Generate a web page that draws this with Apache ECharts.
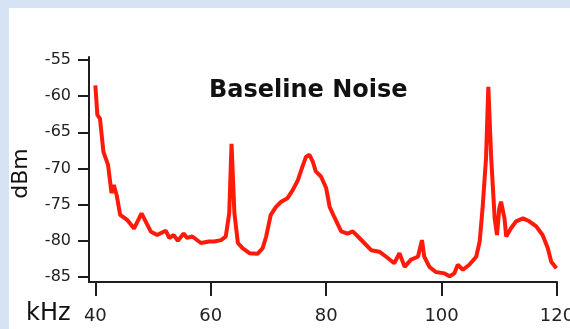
<!DOCTYPE html>
<html>
<head>
<meta charset="utf-8">
<script src="https://cdn.jsdelivr.net/npm/echarts@6/dist/echarts.min.js"></script>
<style>
  html, body { margin:0; padding:0; background:#d5e3f5; width:570px; height:329px; overflow:hidden; }
  #c { position:absolute; left:9px; top:8px; width:561px; height:321px; background:#ffffff; }
</style>
</head>
<body>
<div id="c"></div>
<script>
// Frequency (kHz)
const freqKHz = [40.0, 40.35, 40.8, 41.4, 42.2, 42.8, 43.2, 43.7, 44.3, 45.5, 46.7, 48.0, 49.6, 50.7, 52.2, 52.8, 53.6, 54.3, 55.3, 55.9, 56.8, 58.3, 59.7,
  60.6, 61.8, 62.6, 63.2, 63.6, 64.1, 64.7, 65.5, 66.7, 68.1, 69.0, 69.6, 70.4, 71.3, 72.2, 73.3, 74.2, 75.1, 75.9, 76.5, 77.1, 77.7, 78.2, 79.1, 80.0,
  80.6, 81.4, 82.6, 83.7, 84.6, 85.5, 86.6, 87.8, 89.2, 90.4, 91.8, 92.7, 93.6, 94.7, 95.9, 96.6, 97.0, 97.9, 99.0, 100.5, 101.4,
  102.2, 102.8, 103.7, 104.8, 106.0, 106.6, 107.1, 107.7, 108.1, 108.6, 109.2, 109.6, 110.0, 110.3, 110.9, 111.2, 112.0, 112.9, 114.1, 115.2, 116.4, 117.5, 118.4, 119.0, 119.9];
// Power (dBm)
const powerDBm = [-58.5, -62.6, -63.1, -67.7, -69.5, -73.4, -72.3, -73.7, -76.4, -77.1, -78.3, -76.2, -78.7, -79.2, -78.6, -79.6, -79.2, -80.0, -79.0, -79.6, -79.4, -80.3, -80.1,
  -80.1, -79.9, -79.4, -76.2, -66.6, -76.2, -80.3, -81.0, -81.7, -81.8, -81.0, -79.4, -76.4, -75.3, -74.6, -74.1, -73.0, -71.6, -69.7, -68.4, -68.1, -69.1, -70.4, -71.1, -72.7,
  -75.3, -76.7, -78.7, -79.0, -78.7, -79.4, -80.3, -81.3, -81.5, -82.2, -83.1, -81.7, -83.6, -82.6, -82.2, -79.9, -82.2, -83.6, -84.3, -84.5, -84.9,
  -84.5, -83.3, -84.0, -83.3, -82.2, -80.1, -75.5, -68.6, -58.7, -68.6, -76.9, -79.2, -75.5, -74.6, -76.9, -79.4, -78.3, -77.3, -76.9, -77.3, -78.0, -79.2, -81.0, -82.9, -83.8];
const xTicks = [40, 60, 80, 100, 120];
const yTicks = [-85, -80, -75, -70, -65, -60, -55];
const titleText = 'Baseline Noise';
const xName = 'kHz';
const yName = 'dBm';

const chart = echarts.init(document.getElementById('c'), null, { renderer: 'canvas' });
const axisColor = '#1e1e1e';
chart.setOption({
  animation: false,
  backgroundColor: '#ffffff',
  title: {
    text: titleText,
    left: 195, top: 66,
    textStyle: { fontFamily: 'DejaVu Sans', fontWeight: 'bold', fontSize: 24, color: '#111' }
  },
  graphic: [{
    type: 'text',
    left: 17, top: 294,
    style: { text: xName, fontFamily: 'DejaVu Sans', fontSize: 24, fill: '#111' }
  }],
  grid: { left: 80, right: 13, top: 49, bottom: 47, outerBoundsMode: 'none', containLabel: false },
  xAxis: {
    type: 'value', min: 38.9, max: 120,
    axisLine: { show: true, onZero: false, lineStyle: { color: axisColor, width: 2 } },
    axisTick: { show: true, length: 14, customValues: xTicks, lineStyle: { color: axisColor, width: 2 } },
    axisLabel: { customValues: xTicks, margin: 25, fontFamily: 'DejaVu Sans', fontSize: 18, color: '#222' },
    splitLine: { show: false }
  },
  yAxis: {
    type: 'value', min: -85.69, max: -54.59,
    name: yName, nameLocation: 'middle', nameRotate: 90, nameGap: 57,
    nameTextStyle: { fontFamily: 'DejaVu Sans', fontSize: 22, color: '#111', padding: [0, 8, 0, 0] },
    axisLine: { show: true, onZero: false, lineStyle: { color: axisColor, width: 2 } },
    axisTick: { show: true, length: 11, customValues: yTicks, lineStyle: { color: axisColor, width: 2 } },
    axisLabel: { customValues: yTicks, margin: 18, fontFamily: 'DejaVu Sans', fontSize: 16, color: '#222' },
    splitLine: { show: false }
  },
  series: [{
    type: 'line',
    data: freqKHz.map((f, i) => [f, powerDBm[i]]),
    showSymbol: false,
    lineStyle: { color: '#ff1a0a', width: 4 },
    clip: false
  }]
});
</script>
</body>
</html>
